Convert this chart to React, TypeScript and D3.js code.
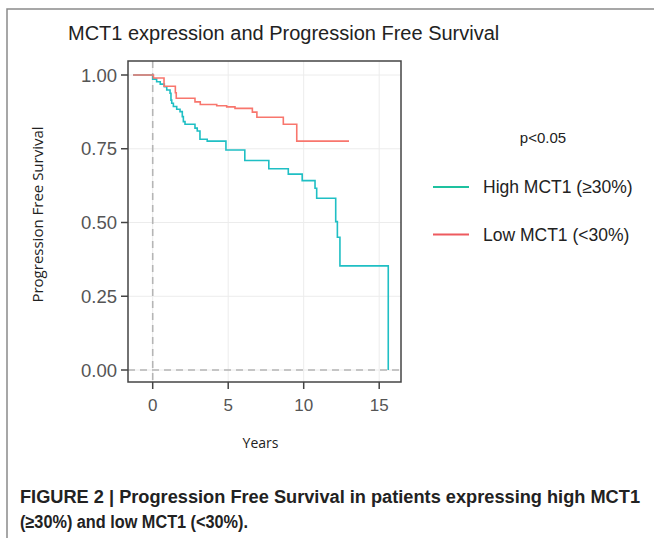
import React from "react";
import * as d3 from "d3";

const highTime = [-1.3, 0.0, 0.26, 0.5, 0.77, 0.93, 1.15, 1.21, 1.26, 1.37, 1.59, 1.81, 1.96, 2.03, 2.14, 2.8, 2.95, 3.13, 3.61, 4.85, 6.1, 7.69, 8.98, 9.9, 10.75, 10.86, 12.12, 12.23, 12.4, 15.6];
const highSurv = [1.0, 0.986, 0.977, 0.969, 0.96, 0.949, 0.938, 0.915, 0.904, 0.893, 0.884, 0.876, 0.859, 0.842, 0.833, 0.82, 0.81, 0.782, 0.776, 0.746, 0.71, 0.682, 0.664, 0.642, 0.616, 0.582, 0.503, 0.45, 0.353, 0.0];
const lowTime = [-1.3, 0.05, 0.75, 1.5, 1.56, 2.8, 3.15, 4.24, 4.9, 5.45, 6.6, 6.9, 8.65, 9.54, 13.0];
const lowSurv = [1.0, 0.99, 0.962, 0.94, 0.921, 0.909, 0.9, 0.896, 0.892, 0.887, 0.874, 0.857, 0.833, 0.776, 0.776];
const xTicks = [0, 5, 10, 15];
const yTicks = [0, 0.25, 0.5, 0.75, 1.0];
const seriesNames = ["High MCT1 (≥30%)", "Low MCT1 (<30%)"];
const seriesColors = ["#1fbfc4", "#f8766d"];
const legendColors = ["#1ec19f", "#ee5a5f"];

export default function App() {
  const x = d3.scaleLinear().domain([0, 15]).range([152.7, 379.2]);
  const y = d3.scaleLinear().domain([0, 1]).range([370, 75]);
  const panel = { left: 128, right: 401, top: 61, bottom: 382 };
  const line = d3
    .line<[number, number]>()
    .x((d) => x(d[0]))
    .y((d) => y(d[1]))
    .curve(d3.curveStepAfter);
  const high = highTime.map((t, i) => [t, highSurv[i]] as [number, number]);
  const low = lowTime.map((t, i) => [t, lowSurv[i]] as [number, number]);
  const sans = "Liberation Sans, Arial, sans-serif";
  const open = "Open Sans, sans-serif";
  return (
    <svg width={654} height={538} style={{ position: "absolute", left: 0, top: 0, background: "#fff" }}>
      <rect x={0} y={0} width={654} height={538} fill="#fff" />
      <path d="M7,538 L7,9 L654,9" fill="none" stroke="#8a8a8a" strokeWidth={1.5} />
      <text x={68} y={40} fontFamily={sans} fontSize={20} fill="#222">
        MCT1 expression and Progression Free Survival
      </text>
      {/* grid */}
      {xTicks.map((t) => (
        <line key={"gx" + t} x1={x(t)} x2={x(t)} y1={panel.top} y2={panel.bottom} stroke="#ececec" strokeWidth={1} />
      ))}
      {yTicks.map((t) => (
        <line key={"gy" + t} x1={panel.left} x2={panel.right} y1={y(t)} y2={y(t)} stroke="#ececec" strokeWidth={1} />
      ))}
      <line x1={x(0)} x2={x(0)} y1={panel.top} y2={panel.bottom} stroke="#b5b5b5" strokeWidth={1.6} strokeDasharray="7,5" />
      <line x1={panel.left} x2={panel.right} y1={y(0)} y2={y(0)} stroke="#b5b5b5" strokeWidth={1.6} strokeDasharray="7,5" />
      <path d={line(high) || ""} fill="none" stroke={seriesColors[0]} strokeWidth={1.6} />
      <path d={line(low) || ""} fill="none" stroke={seriesColors[1]} strokeWidth={1.6} />
      <rect x={panel.left} y={panel.top} width={panel.right - panel.left} height={panel.bottom - panel.top} fill="none" stroke="#444" strokeWidth={1.5} />
      {yTicks.map((t) => (
        <g key={"ty" + t}>
          <line x1={panel.left - 7} x2={panel.left} y1={y(t)} y2={y(t)} stroke="#444" strokeWidth={1.5} />
          <text x={panel.left - 11} y={y(t)} dy="0.36em" textAnchor="end" fontFamily={sans} fontSize={18.5} fill="#555">
            {t.toFixed(2)}
          </text>
        </g>
      ))}
      {xTicks.map((t) => (
        <g key={"tx" + t}>
          <line x1={x(t)} x2={x(t)} y1={panel.bottom} y2={panel.bottom + 7} stroke="#444" strokeWidth={1.5} />
          <text x={x(t)} y={panel.bottom + 23} dy="0.36em" textAnchor="middle" fontFamily={sans} fontSize={17} fill="#555">
            {t}
          </text>
        </g>
      ))}
      <text transform={`translate(43,${(panel.top + panel.bottom) / 2 - 7}) rotate(-90)`} textAnchor="middle" fontFamily={open} fontSize={15} fill="#222">
        Progression Free Survival
      </text>
      <text x={(panel.left + panel.right) / 2 - 4} y={448} textAnchor="middle" fontFamily={open} fontSize={14} fill="#222">
        Years
      </text>
      <text x={543} y={143} textAnchor="middle" fontFamily={sans} fontSize={15} fill="#222">
        p&lt;0.05
      </text>
      {seriesNames.map((n, i) => (
        <g key={n}>
          <line x1={433} x2={469} y1={187 + i * 47.5} y2={187 + i * 47.5} stroke={legendColors[i]} strokeWidth={2} />
          <text x={483} y={187 + i * 47.5} dy="0.36em" fontFamily={sans} fontSize={17.5} fill="#222">
            {n}
          </text>
        </g>
      ))}
      <text x={20} y={503} fontFamily={sans} fontWeight="bold" fontSize={18} fill="#222" textLength={620} lengthAdjust="spacingAndGlyphs">
        FIGURE 2 | Progression Free Survival in patients expressing high MCT1
      </text>
      <text x={20} y={528} fontFamily={sans} fontWeight="bold" fontSize={18} fill="#222" textLength={228} lengthAdjust="spacingAndGlyphs">
        (≥30%) and low MCT1 (&lt;30%).
      </text>
    </svg>
  );
}
